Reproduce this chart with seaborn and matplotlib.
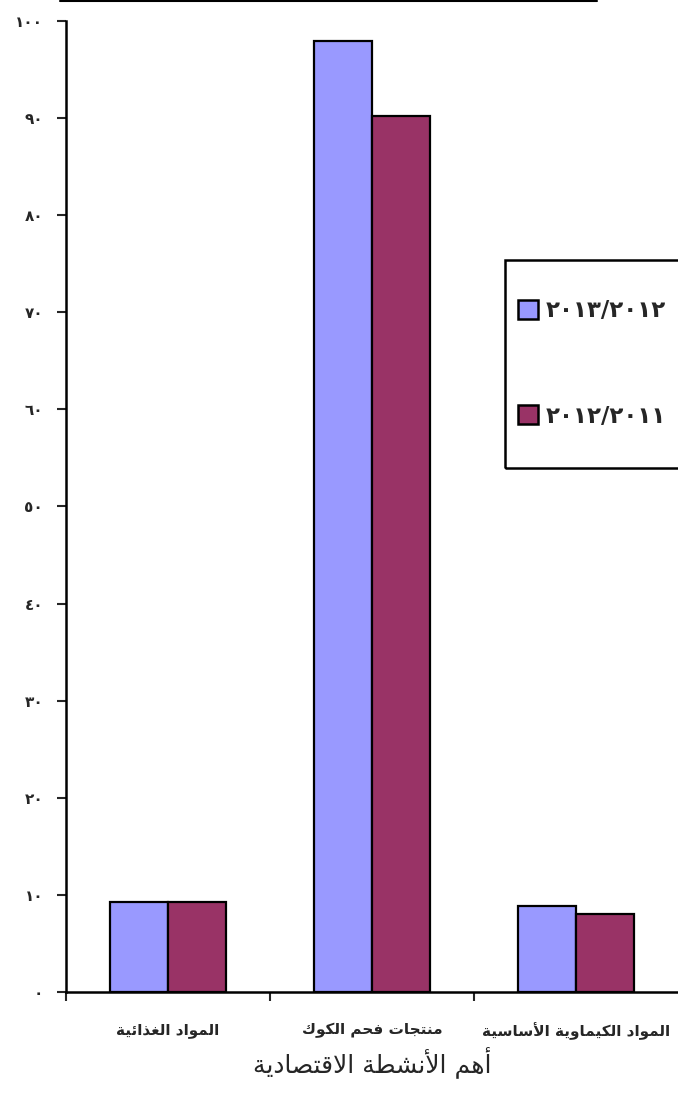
import pandas as pd
import matplotlib
matplotlib.use('Agg')
import matplotlib.pyplot as plt
import matplotlib.patches as mpatches
from matplotlib.lines import Line2D
import seaborn as sns

# Data
categories = ['المواد الغذائية', 'منتجات فحم الكوك', 'المواد الكيماوية الأساسية']
series_names = ['٢٠١٣/٢٠١٢', '٢٠١٢/٢٠١١']
values_2013 = [9.3, 97.9, 8.9]
values_2012 = [9.3, 90.2, 8.0]
y_ticks = [0, 10, 20, 30, 40, 50, 60, 70, 80, 90, 100]
x_title = 'أهم الأنشطة الاقتصادية'
colors = ['#9999FF', '#993366']


# Arabic shaping (matplotlib has no shaping / bidi)
FORMS = {
    'ء': (0xFE80, 1), 'آ': (0xFE81, 2), 'أ': (0xFE83, 2), 'ؤ': (0xFE85, 2),
    'إ': (0xFE87, 2), 'ئ': (0xFE89, 4), 'ا': (0xFE8D, 2), 'ب': (0xFE8F, 4),
    'ة': (0xFE93, 2), 'ت': (0xFE95, 4), 'ث': (0xFE99, 4), 'ج': (0xFE9D, 4),
    'ح': (0xFEA1, 4), 'خ': (0xFEA5, 4), 'د': (0xFEA9, 2), 'ذ': (0xFEAB, 2),
    'ر': (0xFEAD, 2), 'ز': (0xFEAF, 2), 'س': (0xFEB1, 4), 'ش': (0xFEB5, 4),
    'ص': (0xFEB9, 4), 'ض': (0xFEBD, 4), 'ط': (0xFEC1, 4), 'ظ': (0xFEC5, 4),
    'ع': (0xFEC9, 4), 'غ': (0xFECD, 4), 'ف': (0xFED1, 4), 'ق': (0xFED5, 4),
    'ك': (0xFED9, 4), 'ل': (0xFEDD, 4), 'م': (0xFEE1, 4), 'ن': (0xFEE5, 4),
    'ه': (0xFEE9, 4), 'و': (0xFEED, 2), 'ى': (0xFEEF, 2), 'ي': (0xFEF1, 4),
}
LAM_ALEF = {'آ': 0xFEF5, 'أ': 0xFEF7, 'إ': 0xFEF9, 'ا': 0xFEFB}


def shape(text):
    out = []
    n = len(text)
    i = 0
    while i < n:
        c = text[i]
        if c not in FORMS:
            out.append(c)
            i += 1
            continue
        prev = text[i - 1] if i > 0 else None
        joins_prev = prev in FORMS and FORMS[prev][1] == 4
        if c == 'ل' and i + 1 < n and text[i + 1] in LAM_ALEF:
            base = LAM_ALEF[text[i + 1]]
            out.append(chr(base + 1 if joins_prev else base))
            i += 2
            continue
        start, count = FORMS[c]
        nxt = text[i + 1] if i + 1 < n else None
        joins_next = count == 4 and nxt in FORMS
        if count == 1:
            form = 0
        elif joins_prev and joins_next:
            form = 3
        elif joins_prev:
            form = 1
        elif joins_next:
            form = 2
        else:
            form = 0
        out.append(chr(start + form))
        i += 1
    return ''.join(reversed(out))


def arabic_digits(v):
    return ''.join(chr(0x0660 + int(d)) for d in str(v))


df = pd.DataFrame({
    'category': categories * 2,
    'series': [series_names[0]] * 3 + [series_names[1]] * 3,
    'value': values_2013 + values_2012,
})

sns.set_style('white')
plt.rcParams['font.family'] = ['DejaVu Sans']

fig = plt.figure(figsize=(6.78, 10.95), dpi=100)
ax = fig.add_axes([66 / 678, 1 - 992 / 1095, 1 - 66 / 678, (992 - 21) / 1095])

sns.barplot(data=df, x='category', y='value', hue='series', order=categories,
            hue_order=series_names, palette=colors, width=0.57, gap=0,
            edgecolor='black', linewidth=1.6, saturation=1, legend=False, ax=ax)

ax.set_ylim(0, 100)
ax.set_xlim(-0.5, 2.5)
ax.set_yticks(y_ticks)
ax.set_yticklabels([arabic_digits(v) for v in y_ticks], fontsize=11, fontweight='bold')
ax.tick_params(axis='y', direction='out', length=6.5, width=1.5, pad=10, left=True)

# category labels centered, tick marks at the category boundaries
ax.set_xticks(range(len(categories)))
ax.set_xticklabels([shape(c) for c in categories], fontsize=11, fontweight='bold')
ax.tick_params(axis='x', which='major', length=0, pad=22)
ax.set_xticks([-0.5, 0.5, 1.5], minor=True)
ax.tick_params(axis='x', which='minor', direction='out', length=6.5, width=1.5, bottom=True)

ax.set_xlabel(shape(x_title), fontsize=18, labelpad=4)
ax.set_ylabel('')

for side in ['top', 'right']:
    ax.spines[side].set_visible(False)
for side in ['left', 'bottom']:
    ax.spines[side].set_linewidth(1.8)
    ax.spines[side].set_color('black')

# Legend (cut at the right edge like the original)
handles = [mpatches.Patch(facecolor=col, edgecolor='black', linewidth=1.8) for col in colors]
leg = fig.legend(handles, series_names, loc='center left',
                 bbox_to_anchor=(518 / 678, 1 - 363.5 / 1095),
                 prop={'size': 16.5, 'weight': 'bold'}, frameon=False,
                 borderpad=0, labelspacing=3.6, handlelength=0.88, handleheight=0.88,
                 handletextpad=0.35, borderaxespad=0)
fig.add_artist(mpatches.Rectangle((505 / 678, 1 - 468 / 1095), 0.4, 208 / 1095,
                                  transform=fig.transFigure, fill=False,
                                  edgecolor='black', linewidth=1.8))

# line at the very top
fig.add_artist(Line2D([60 / 678, 597 / 678], [1 - 1 / 1095] * 2, color='black', linewidth=1.5))

fig.savefig('out.png', dpi=100)
